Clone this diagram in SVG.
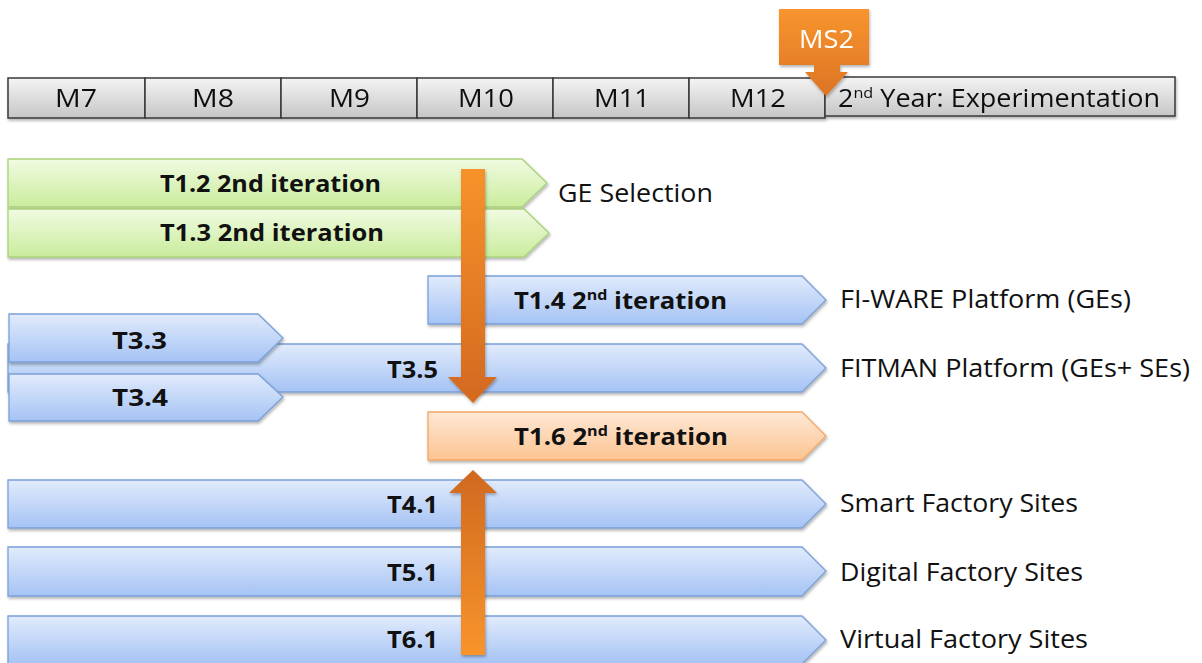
<svg xmlns="http://www.w3.org/2000/svg" width="1202" height="663" viewBox="0 0 1202 663">
  <defs>
    <linearGradient id="gGray" x1="0" y1="0" x2="0" y2="1">
      <stop offset="0" stop-color="#f4f4f4"/>
      <stop offset="1" stop-color="#c6c6c6"/>
    </linearGradient>
    <linearGradient id="gGreen" x1="0" y1="0" x2="0" y2="1">
      <stop offset="0" stop-color="#f1fbe2"/>
      <stop offset="1" stop-color="#c9ec9c"/>
    </linearGradient>
    <linearGradient id="gBlue" x1="0" y1="0" x2="0" y2="1">
      <stop offset="0" stop-color="#e1ebfc"/>
      <stop offset="1" stop-color="#a5c3f4"/>
    </linearGradient>
    <linearGradient id="gPeach" x1="0" y1="0" x2="0" y2="1">
      <stop offset="0" stop-color="#fee8d6"/>
      <stop offset="1" stop-color="#fcc491"/>
    </linearGradient>
    <linearGradient id="gOrangeDown" x1="0" y1="0" x2="0" y2="1">
      <stop offset="0" stop-color="#f7922b"/>
      <stop offset="1" stop-color="#d2691f"/>
    </linearGradient>
    <linearGradient id="gOrangeUp" x1="0" y1="0" x2="0" y2="1">
      <stop offset="0" stop-color="#d0691f"/>
      <stop offset="1" stop-color="#f8942c"/>
    </linearGradient>
    <linearGradient id="gMS2" x1="0" y1="0" x2="0" y2="1">
      <stop offset="0" stop-color="#f8952e"/>
      <stop offset="1" stop-color="#dc7424"/>
    </linearGradient>
    <filter id="shadow" x="-5%" y="-20%" width="110%" height="150%">
      <feDropShadow dx="1" dy="2" stdDeviation="1.5" flood-color="#000" flood-opacity="0.3"/>
    </filter>
  </defs>
  <style>
    .cell { fill: url(#gGray); stroke: #383838; stroke-width: 1.5; }
    .green { fill: url(#gGreen); stroke: #a9d27a; stroke-width: 1.3; filter: url(#shadow); }
    .blue { fill: url(#gBlue); stroke: #7aa0d8; stroke-width: 1.3; filter: url(#shadow); }
    .peach { fill: url(#gPeach); stroke: #f5a663; stroke-width: 1.3; filter: url(#shadow); }
    .mlab { font-family: "Open Sans", "Liberation Sans", sans-serif; font-size: 25px; fill: #111; }
    .blab { font-family: "Open Sans", "Liberation Sans", sans-serif; font-size: 24px; font-weight: bold; fill: #111; }
    .rlab { font-family: "Open Sans", "Liberation Sans", sans-serif; font-size: 25px; fill: #111; }
    .sup { font-size: 15px; }
  </style>
  <rect width="1202" height="663" fill="#ffffff"/>

  <g id="timeline" filter="url(#shadow)">
    <rect class="cell" x="8" y="78" width="137" height="40"/>
    <rect class="cell" x="145" y="78" width="136" height="40"/>
    <rect class="cell" x="281" y="78" width="136" height="40"/>
    <rect class="cell" x="417" y="78" width="136" height="40"/>
    <rect class="cell" x="553" y="78" width="136" height="40"/>
    <rect class="cell" x="689" y="78" width="136" height="40"/>
    <rect class="cell" x="825" y="77" width="350" height="39"/>
    <text class="mlab" x="55" y="107" textLength="42" lengthAdjust="spacingAndGlyphs">M7</text>
    <text class="mlab" x="192" y="107" textLength="42" lengthAdjust="spacingAndGlyphs">M8</text>
    <text class="mlab" x="329" y="107" textLength="41" lengthAdjust="spacingAndGlyphs">M9</text>
    <text class="mlab" x="458" y="107" textLength="56" lengthAdjust="spacingAndGlyphs">M10</text>
    <text class="mlab" x="594" y="107" textLength="56" lengthAdjust="spacingAndGlyphs">M11</text>
    <text class="mlab" x="730" y="107" textLength="56" lengthAdjust="spacingAndGlyphs">M12</text>
    <text class="mlab" x="838" y="107" textLength="322" lengthAdjust="spacingAndGlyphs">2<tspan class="sup" dy="-9">nd</tspan><tspan dy="9"> Year: Experimentation</tspan></text>
  </g>

  <g id="ms2" filter="url(#shadow)">
    <path d="M779,9 L869,9 L869,65 L840,65 L840,72 L848,72 L826,96 L805,72 L814,72 L814,65 L779,65 Z" fill="url(#gMS2)"/>
    <text x="799" y="48" textLength="55" lengthAdjust="spacingAndGlyphs" font-family="Open Sans, Liberation Sans, sans-serif" font-size="25" fill="#ffffff">MS2</text>
  </g>

  <g id="t12">
    <path class="green" d="M8,159 L522,159 L547,183 L522,207 L8,207 Z"/>
    <text class="blab" x="160" y="192" textLength="221" lengthAdjust="spacingAndGlyphs">T1.2 2nd iteration</text>
  </g>
  <g id="t13">
    <path class="green" d="M8,209 L524,209 L549,233 L524,257 L8,257 Z"/>
    <text class="blab" x="160" y="241" textLength="224" lengthAdjust="spacingAndGlyphs">T1.3 2nd iteration</text>
  </g>
  <g id="t14">
    <path class="blue" d="M428,276 L802,276 L826,300 L802,324 L428,324 Z"/>
    <text class="blab" x="514" y="309" textLength="213" lengthAdjust="spacingAndGlyphs">T1.4 2<tspan class="sup" dy="-9">nd</tspan><tspan dy="9"> iteration</tspan></text>
  </g>
  <g id="t35">
    <path class="blue" d="M8,344 L802,344 L826,368 L802,392 L8,392 Z"/>
    <text class="blab" x="387" y="378" textLength="51" lengthAdjust="spacingAndGlyphs">T3.5</text>
  </g>
  <g id="t33">
    <path class="blue" d="M9,314 L258,314 L283,338 L258,362 L9,362 Z"/>
    <text class="blab" x="112" y="349" textLength="55" lengthAdjust="spacingAndGlyphs">T3.3</text>
  </g>
  <g id="t34">
    <path class="blue" d="M9,374 L258,374 L283,397 L258,421 L9,421 Z"/>
    <text class="blab" x="112" y="406" textLength="56" lengthAdjust="spacingAndGlyphs">T3.4</text>
  </g>
  <g id="t16">
    <path class="peach" d="M428,412 L802,412 L826,436 L802,460 L428,460 Z"/>
    <text class="blab" x="514" y="445" textLength="214" lengthAdjust="spacingAndGlyphs">T1.6 2<tspan class="sup" dy="-9">nd</tspan><tspan dy="9"> iteration</tspan></text>
  </g>
  <g id="t41">
    <path class="blue" d="M8,480 L802,480 L826,504 L802,528 L8,528 Z"/>
    <text class="blab" x="387" y="513" textLength="51" lengthAdjust="spacingAndGlyphs">T4.1</text>
  </g>
  <g id="t51">
    <path class="blue" d="M8,547 L802,547 L826,571 L802,596 L8,596 Z"/>
    <text class="blab" x="387" y="581" textLength="51" lengthAdjust="spacingAndGlyphs">T5.1</text>
  </g>
  <g id="t61">
    <path class="blue" d="M8,616 L802,616 L826,640 L802,664 L8,664 Z"/>
    <text class="blab" x="387" y="648" textLength="51" lengthAdjust="spacingAndGlyphs">T6.1</text>
  </g>

  <g id="labels">
    <text class="rlab" x="558" y="202" textLength="155" lengthAdjust="spacingAndGlyphs">GE Selection</text>
    <text class="rlab" x="840" y="308" textLength="291" lengthAdjust="spacingAndGlyphs">FI-WARE Platform (GEs)</text>
    <text class="rlab" x="840" y="377" textLength="350" lengthAdjust="spacingAndGlyphs">FITMAN Platform (GEs+ SEs)</text>
    <text class="rlab" x="840" y="512" textLength="238" lengthAdjust="spacingAndGlyphs">Smart Factory Sites</text>
    <text class="rlab" x="840" y="581" textLength="243" lengthAdjust="spacingAndGlyphs">Digital Factory Sites</text>
    <text class="rlab" x="840" y="648" textLength="248" lengthAdjust="spacingAndGlyphs">Virtual Factory Sites</text>
  </g>

  <g id="connectors" filter="url(#shadow)">
    <path d="M461,169 L485,169 L485,377 L497,377 L473,403 L448,377 L461,377 Z" fill="url(#gOrangeDown)"/>
    <path d="M473,470 L497,493 L485,493 L485,655 L461,655 L461,493 L449,493 Z" fill="url(#gOrangeUp)"/>
  </g>
</svg>
